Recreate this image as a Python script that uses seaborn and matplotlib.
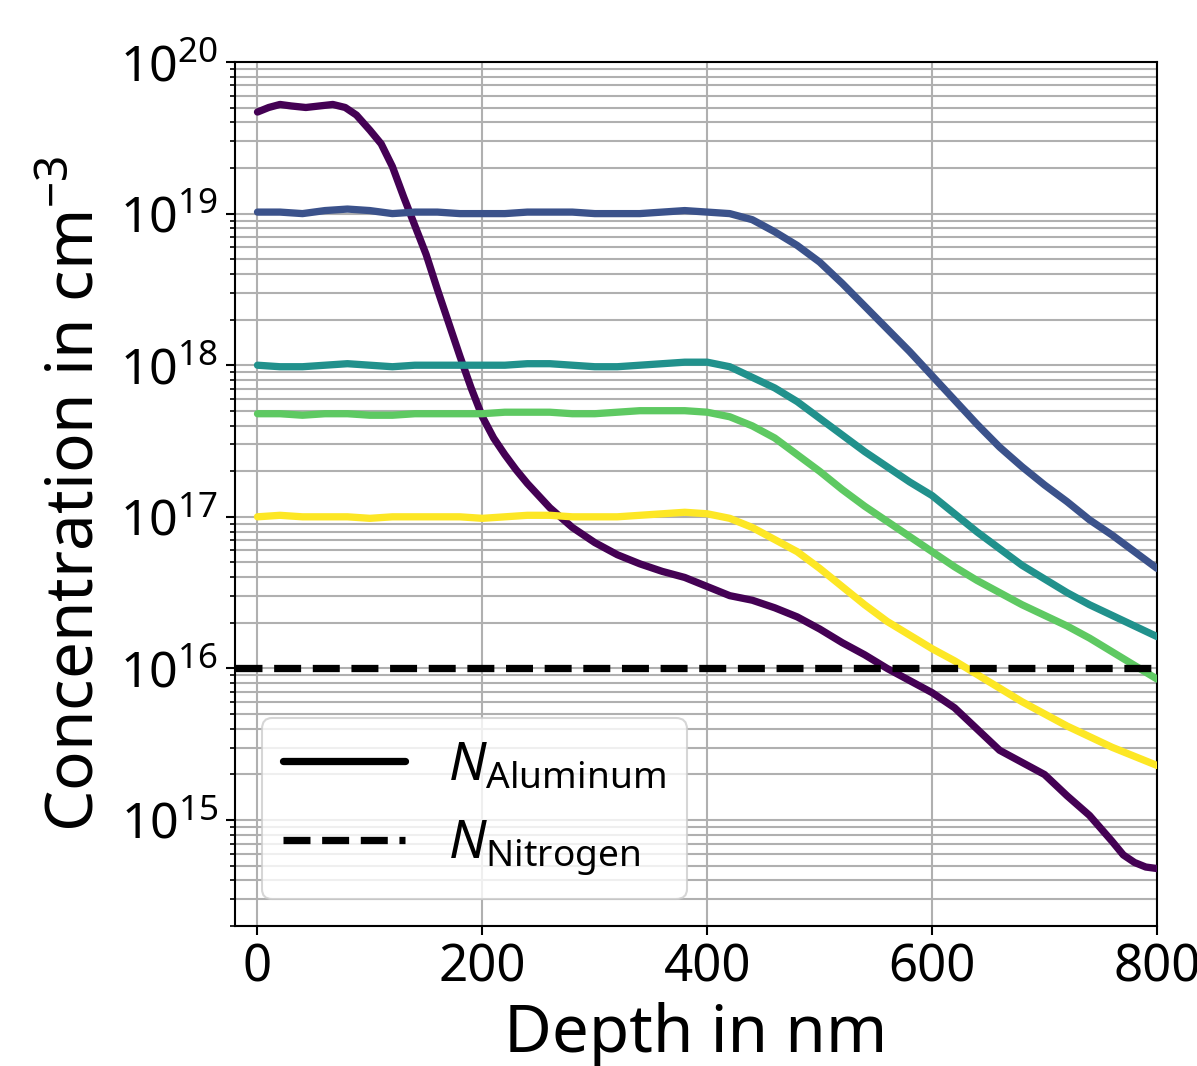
import numpy as np
import pandas as pd
import matplotlib
matplotlib.use("Agg")
import matplotlib.pyplot as plt
from matplotlib.lines import Line2D
import seaborn as sns

# ---------------- data ----------------
depth_nm = [0, 20, 40, 60, 80, 100, 120, 140, 160, 180, 200, 220, 240, 260, 280,
            300, 320, 340, 360, 380, 400, 420, 440, 460, 480, 500, 520, 540, 560,
            580, 600, 620, 640, 660, 680, 700, 720, 740, 760, 780, 800]

# log10 of the aluminum concentration (cm^-3)
log_al_1e19 = [19.01, 19.01, 19.00, 19.02, 19.03, 19.02, 19.00, 19.01, 19.01, 19.00,
               19.00, 19.00, 19.01, 19.01, 19.01, 19.00, 19.00, 19.00, 19.01, 19.02,
               19.01, 19.00, 18.96, 18.88, 18.79, 18.68, 18.54, 18.39, 18.24, 18.09,
               17.93, 17.77, 17.61, 17.46, 17.33, 17.21, 17.10, 16.98, 16.88, 16.77,
               16.66]
log_al_1e18 = [18.00, 17.99, 17.99, 18.00, 18.01, 18.00, 17.99, 18.00, 18.00, 18.00,
               18.00, 18.00, 18.01, 18.01, 18.00, 17.99, 17.99, 18.00, 18.01, 18.02,
               18.02, 17.99, 17.92, 17.85, 17.76, 17.65, 17.54, 17.43, 17.33, 17.23,
               17.14, 17.02, 16.90, 16.79, 16.68, 16.59, 16.50, 16.42, 16.35, 16.28,
               16.21]
log_al_5e17 = [17.68, 17.68, 17.67, 17.68, 17.68, 17.67, 17.67, 17.68, 17.68, 17.68,
               17.68, 17.69, 17.69, 17.69, 17.68, 17.68, 17.69, 17.70, 17.70, 17.70,
               17.69, 17.66, 17.60, 17.52, 17.41, 17.30, 17.18, 17.07, 16.97, 16.87,
               16.77, 16.67, 16.58, 16.50, 16.42, 16.35, 16.28, 16.20, 16.11, 16.02,
               15.93]
log_al_1e17 = [17.00, 17.01, 17.00, 17.00, 17.00, 16.99, 17.00, 17.00, 17.00, 17.00,
               16.99, 17.00, 17.01, 17.01, 17.00, 17.00, 17.00, 17.01, 17.02, 17.03,
               17.02, 16.99, 16.93, 16.85, 16.77, 16.66, 16.54, 16.42, 16.31, 16.22,
               16.13, 16.05, 15.96, 15.87, 15.78, 15.70, 15.62, 15.55, 15.48, 15.42,
               15.36]

# the steep profile has its own, denser depth grid
depth_nm_5e19 = [0, 10, 20, 30, 43, 55, 67, 78, 88, 100, 110, 120, 130, 140, 150,
                 160, 170, 180, 190, 200, 210, 220, 230, 240, 250, 260, 280, 300,
                 320, 340, 360, 380, 400, 420, 440, 460, 480, 500, 520, 540, 560,
                 580, 600, 620, 640, 660, 680, 700, 720, 740, 760, 770, 780, 790, 800]
log_al_5e19 = [19.67, 19.70, 19.72, 19.71, 19.70, 19.71, 19.72, 19.70, 19.65, 19.55,
               19.46, 19.31, 19.11, 18.92, 18.73, 18.50, 18.28, 18.06, 17.85, 17.66,
               17.52, 17.41, 17.31, 17.22, 17.14, 17.06, 16.93, 16.83, 16.75, 16.69,
               16.64, 16.60, 16.54, 16.48, 16.45, 16.40, 16.34, 16.26, 16.17, 16.09,
               16.00, 15.92, 15.84, 15.74, 15.60, 15.46, 15.38, 15.30, 15.16, 15.03,
               14.86, 14.77, 14.72, 14.69, 14.68]

series_names = ["5e19", "1e19", "1e18", "5e17", "1e17"]
series_depths = [depth_nm_5e19, depth_nm, depth_nm, depth_nm, depth_nm]
series_logs = [log_al_5e19, log_al_1e19, log_al_1e18, log_al_5e17, log_al_1e17]
series_colors = ["#440154", "#3b528b", "#21918c", "#5ec962", "#fde725"]

nitrogen_conc = 1e16

x_ticks = [0, 200, 400, 600, 800]
legend_labels = [r"$N_\mathrm{Aluminum}$", r"$N_\mathrm{Nitrogen}$"]
x_label = "Depth in nm"
y_label = r"Concentration in cm$^{-3}$"

# ---------------- style ----------------
sns.set_style("ticks")
plt.rcParams["font.family"] = ["Noto Sans", "DejaVu Sans"]
plt.rcParams["mathtext.fontset"] = "custom"
plt.rcParams["mathtext.rm"] = "Noto Sans"
plt.rcParams["mathtext.it"] = "Noto Sans:italic"
plt.rcParams["mathtext.bf"] = "Noto Sans:bold"
for key in ["text.color", "axes.labelcolor", "xtick.color", "ytick.color",
            "axes.edgecolor"]:
    plt.rcParams[key] = "black"

rows = []
for name, depths, logs in zip(series_names, series_depths, series_logs):
    for d, lv in zip(depths, logs):
        rows.append({"depth": d, "conc": 10.0 ** lv, "series": name})
df = pd.DataFrame(rows)

fig = plt.figure(figsize=(1197 / 150, 1066 / 150), dpi=150)
ax = fig.add_axes([235 / 1197, 1 - 926 / 1066, (1157 - 235) / 1197, (926 - 62) / 1066])

sns.lineplot(data=df, x="depth", y="conc", hue="series", hue_order=series_names,
             palette=series_colors, linewidth=3.5, legend=False, ax=ax, zorder=3,
             estimator=None, sort=True)
ax.axhline(nitrogen_conc, color="black", linestyle="--", linewidth=3.5, zorder=4)

ax.set_yscale("log")
ax.set_xlim(-20, 800)
ax.set_ylim(2e14, 1e20)
ax.set_xticks(x_ticks)

ax.grid(True, which="major", axis="both", color="#b0b0b0", linewidth=1.0)
ax.grid(True, which="minor", axis="y", color="#b0b0b0", linewidth=1.0)
ax.set_axisbelow(True)

for s in ax.spines.values():
    s.set_visible(True)
    s.set_color("black")
    s.set_linewidth(1.0)

ax.tick_params(axis="x", which="major", labelsize=24.5, length=4.5, width=1.0,
               color="black", labelcolor="black", direction="out")
ax.tick_params(axis="y", which="major", labelsize=24, length=4.5, width=1.0,
               color="black", labelcolor="black", direction="out")
ax.tick_params(axis="y", which="minor", length=2.5, width=0.8, color="black",
               direction="out")

ax.set_xlabel(x_label, fontsize=31.5, labelpad=4, color="black")
ax.set_ylabel(y_label, fontsize=31.5, labelpad=5, color="black")

handles = [Line2D([0], [0], color="black", linewidth=3.5, linestyle="-"),
           Line2D([0], [0], color="black", linewidth=3.5, linestyle="--")]
ax.legend(handles, legend_labels, loc="lower left", fontsize=25.5, framealpha=0.8,
          handlelength=2.3)

fig.savefig("out.png", dpi=150)
